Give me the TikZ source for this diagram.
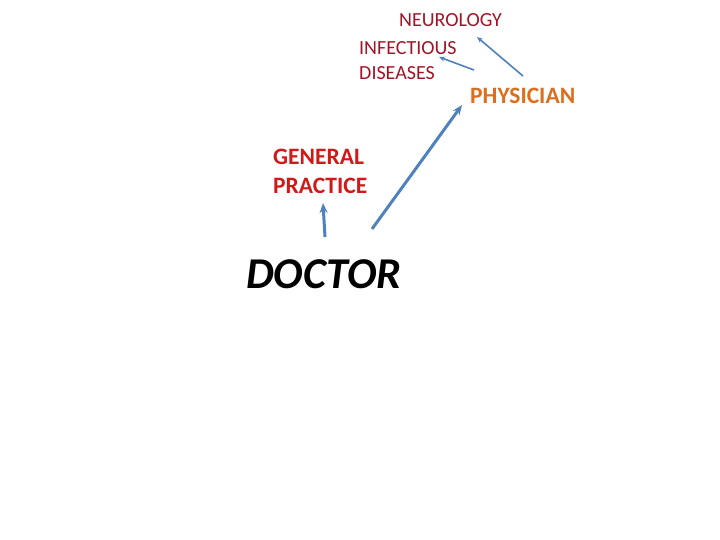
\documentclass[tikz,border=0pt]{standalone}
\usepackage{fontspec}
\setmainfont{Carlito}
\usetikzlibrary{positioning,arrows.meta}
\definecolor{arrowblue}{RGB}{79,129,189}
\definecolor{darkred}{RGB}{160,20,40}
\definecolor{brightred}{RGB}{210,25,25}
\definecolor{physorange}{RGB}{220,110,30}
\begin{document}
\begin{tikzpicture}[x=1pt, y=-1pt,
    field/.style = {anchor=west, inner sep=0pt, align=left, text=darkred, font=\fontsize{20}{24.5}\selectfont},
    link/.style = {draw=arrowblue, line width=1.6pt, -{Stealth[length=6pt,width=5pt]}},
    biglink/.style = {draw=arrowblue, line width=3pt, -{Stealth[length=10pt,width=8pt]}}]
    \useasboundingbox (0,0) rectangle (720,540);
    \node[field] (neuro) at (399,20) {NEUROLOGY};
    \node[field] (infect) at (359,60.5) {INFECTIOUS\\DISEASES};
    \node[anchor=west, inner sep=0pt, text=physorange, font=\fontsize{23.5}{26}\bfseries] (phys) at (470,96) {PHYSICIAN};
    \node[anchor=west, inner sep=0pt, align=left, text=brightred, font=\fontsize{23.5}{29}\bfseries] (gp) at (273,171.5) {GENERAL\\PRACTICE};
    \node[anchor=west, inner sep=0pt, font=\fontsize{44}{46}\bfseries\itshape] (doc) at (246,274) {DOCTOR};
    \coordinate (docA) at (325,237);
    \coordinate (gpA) at (323,203);
    \coordinate (docB) at (372,229);
    \coordinate (physB) at (462,105);
    \coordinate (physC) at (523,76);
    \coordinate (neuroC) at (477,37);
    \coordinate (physD) at (474,70);
    \coordinate (infectD) at (439,57);
    \draw[biglink] (docA) -- (gpA);
    \draw[biglink] (docB) -- (physB);
    \draw[link] (physC) -- (neuroC);
    \draw[link] (physD) -- (infectD);
\end{tikzpicture}
\end{document}
